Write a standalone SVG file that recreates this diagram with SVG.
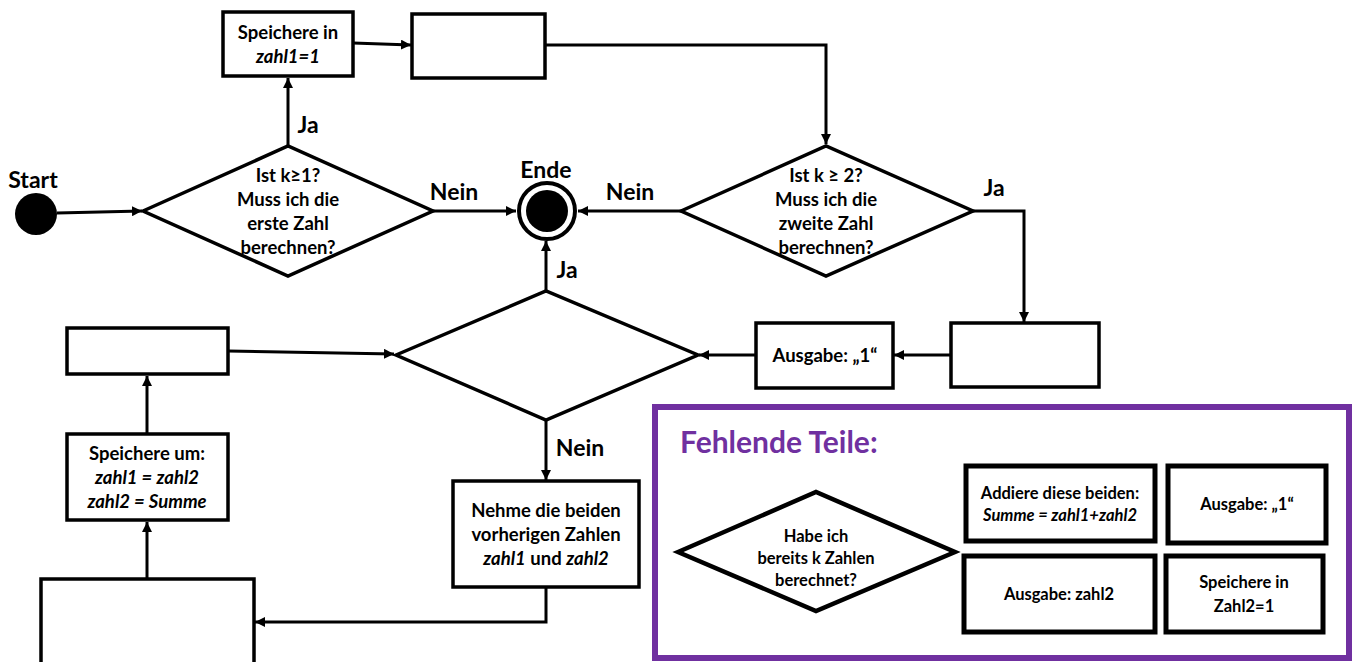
<svg xmlns="http://www.w3.org/2000/svg" width="1357" height="662" viewBox="0 0 1357 662">
<defs>
<marker id="ah" viewBox="0 0 10 10" refX="10" refY="5" markerWidth="10" markerHeight="10" markerUnits="userSpaceOnUse" orient="auto">
<path d="M0,0 L10,5 L0,10 z" fill="#000"/>
</marker>
<style>
.s{fill:#fff;stroke:#000;stroke-width:3.5}
.k{fill:#fff;stroke:#000;stroke-width:5}
.c{fill:none;stroke:#000;stroke-width:3;marker-end:url(#ah)}
text{font-family:Lato,"Open Sans","Liberation Sans",sans-serif;font-weight:bold;fill:#000;text-anchor:middle}
.t{font-size:18.5px}
.m{font-size:16.5px}
.l{font-size:23px}
.i{font-style:italic}
</style>
</defs>
<rect width="1357" height="662" fill="#fff"/>

<g id="connectors">
<path class="c" d="M57,213 L142,211"/>
<path class="c" d="M288,145 L288,78"/>
<path class="c" d="M353,43 L411,45"/>
<path class="c" d="M545,45 L826,45 L826,144"/>
<path class="c" d="M433,211 L516,211"/>
<path class="c" d="M681,211 L578,211"/>
<path class="c" d="M973,211 L1024,211 L1024,322"/>
<path class="c" d="M951,355 L894,355"/>
<path class="c" d="M756,355 L699,355"/>
<path class="c" d="M546,291 L546,241"/>
<path class="c" d="M546,420 L546,480"/>
<path class="c" d="M546,587 L546,622 L255,622"/>
<path class="c" d="M147,579 L147,522"/>
<path class="c" d="M147,434 L147,376"/>
<path class="c" d="M228,351 L394,354"/>
</g>

<g id="labels">
<text class="l" x="308" y="133">Ja</text>
<text class="l" x="454" y="200">Nein</text>
<text class="l" x="630" y="200">Nein</text>
<text class="l" x="994" y="196">Ja</text>
<text class="l" x="567" y="278">Ja</text>
<text class="l" x="580" y="456">Nein</text>
</g>

<g id="start">
<text class="l" x="33" y="188">Start</text>
<circle cx="36" cy="214" r="21" fill="#000"/>
</g>

<g id="ende">
<text class="l" x="546" y="178">Ende</text>
<circle cx="547" cy="211" r="28" fill="#fff" stroke="#000" stroke-width="4"/>
<circle cx="547" cy="211" r="21" fill="#000"/>
</g>

<g id="d1">
<polygon class="s" points="143,211 288,146 433,211 288,276"/>
<text class="t" x="288" y="182">Ist k≥1?</text>
<text class="t" x="288" y="206">Muss ich die</text>
<text class="t" x="288" y="230">erste Zahl</text>
<text class="t" x="288" y="254">berechnen?</text>
</g>

<g id="b1">
<rect class="s" x="223" y="12" width="130" height="64"/>
<text class="t" x="288" y="39">Speichere in</text>
<text class="t i" x="288" y="63">zahl1=1</text>
</g>

<g id="b2">
<rect class="s" x="412" y="14" width="133" height="64"/>
</g>

<g id="d2">
<polygon class="s" points="681,211 826,146 973,211 826,276"/>
<text class="t" x="826" y="182">Ist k ≥ 2?</text>
<text class="t" x="826" y="206">Muss ich die</text>
<text class="t" x="826" y="230">zweite Zahl</text>
<text class="t" x="826" y="254">berechnen?</text>
</g>

<g id="b3">
<rect class="s" x="951" y="323" width="148" height="64"/>
</g>

<g id="b4">
<rect class="s" x="756" y="323" width="137" height="65"/>
<text class="t" x="825" y="362">Ausgabe: „1“</text>
</g>

<g id="d3">
<polygon class="s" points="396,355 546,291 698,355 546,420"/>
</g>

<g id="b5">
<rect class="s" x="453" y="481" width="186" height="106"/>
<text class="t" x="546" y="517">Nehme die beiden</text>
<text class="t" x="546" y="541">vorherigen Zahlen</text>
<text class="t" x="546" y="565"><tspan class="i">zahl1</tspan> und <tspan class="i">zahl2</tspan></text>
</g>

<g id="b6">
<rect class="s" x="41" y="579" width="213" height="90"/>
</g>

<g id="b7">
<rect class="s" x="67" y="434" width="161" height="86"/>
<text class="t" x="147" y="460">Speichere um:</text>
<text class="t i" x="147" y="484">zahl1 = zahl2</text>
<text class="t i" x="147" y="508">zahl2 = Summe</text>
</g>

<g id="b8">
<rect class="s" x="67" y="328" width="161" height="46"/>
</g>

<g id="legend">
<rect x="655" y="407" width="694" height="251" fill="#fff" stroke="#7030A0" stroke-width="6"/>
<text x="680" y="453" style="font-size:30px;fill:#7030A0;text-anchor:start">Fehlende Teile:</text>
<g id="lg-d">
<polygon class="k" points="678,552 816,492 955,552 816,611" style="stroke-width:4.5"/>
<text class="m" x="816" y="542">Habe ich</text>
<text class="m" x="816" y="564">bereits k Zahlen</text>
<text class="m" x="816" y="586">berechnet?</text>
</g>
<g id="lg-b1">
<rect class="k" x="966" y="466" width="189" height="75"/>
<text class="m" x="1060" y="499">Addiere diese beiden:</text>
<text class="m i" x="1060" y="521">Summe = zahl1+zahl2</text>
</g>
<g id="lg-b2">
<rect class="k" x="1168" y="466" width="158" height="77"/>
<text class="m" x="1247" y="510">Ausgabe: „1“</text>
</g>
<g id="lg-b3">
<rect class="k" x="964" y="556" width="191" height="76"/>
<text class="m" x="1059" y="600">Ausgabe: zahl2</text>
</g>
<g id="lg-b4">
<rect class="k" x="1166" y="556" width="157" height="76"/>
<text class="m" x="1244" y="588">Speichere in</text>
<text class="m" x="1244" y="612">Zahl2=1</text>
</g>
</g>
</svg>
